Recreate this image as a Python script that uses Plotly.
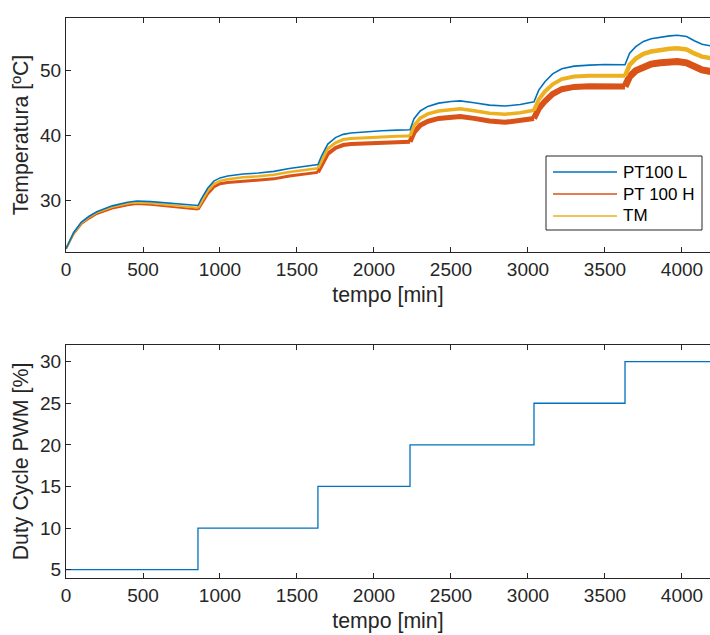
import plotly.graph_objects as go

# ---------------- data ----------------
t = [0, 20, 50, 100, 150, 200, 300, 400, 460, 550, 650, 750, 857,
     880, 920, 960, 1000, 1050, 1150, 1250, 1350, 1450, 1550, 1636,
     1660, 1700, 1750, 1800, 1850, 1950, 2050, 2150, 2234,
     2260, 2300, 2350, 2420, 2500, 2560, 2650, 2750, 2850, 2950, 3039,
     3070, 3110, 3160, 3220, 3300, 3400, 3500, 3630,
     3660, 3700, 3750, 3800, 3860, 3920, 3970, 4030, 4080, 4130, 4190]

pt100_l = [22.5, 23.6, 25.0, 26.6, 27.5, 28.2, 29.1, 29.65, 29.85, 29.75, 29.55, 29.4, 29.15,
           30.2, 31.8, 32.9, 33.4, 33.7, 34.0, 34.15, 34.4, 34.85, 35.2, 35.45,
           36.8, 38.6, 39.6, 40.1, 40.3, 40.5, 40.65, 40.75, 40.8,
           42.5, 43.7, 44.4, 44.9, 45.15, 45.25, 44.95, 44.6, 44.45, 44.7, 45.1,
           46.9, 48.2, 49.4, 50.2, 50.6, 50.75, 50.85, 50.8,
           52.6, 53.6, 54.4, 54.8, 55.05, 55.25, 55.35, 55.15, 54.5, 53.95, 53.7]

tm = [22.5, 23.5, 24.9, 26.45, 27.35, 28.05, 28.9, 29.45, 29.6, 29.5, 29.25, 29.1, 28.8,
      29.8, 31.4, 32.45, 32.95, 33.2, 33.5, 33.65, 33.9, 34.3, 34.65, 34.9,
      36.1, 37.9, 38.8, 39.3, 39.45, 39.6, 39.72, 39.8, 39.85,
      41.45, 42.6, 43.25, 43.7, 43.95, 44.05, 43.73, 43.35, 43.2, 43.42, 43.8,
      45.45, 46.7, 47.8, 48.6, 49.0, 49.1, 49.15, 49.1,
      50.8, 51.75, 52.5, 52.85, 53.1, 53.28, 53.36, 53.15, 52.55, 52.05, 51.8]

pt100_h = [22.5, 23.4, 24.8, 26.3, 27.15, 27.85, 28.7, 29.2, 29.4, 29.25, 29.0, 28.85, 28.55,
           29.45, 30.95, 32.0, 32.5, 32.7, 32.9, 33.0, 33.25, 33.7, 34.0, 34.25,
           35.4, 37.1, 38.0, 38.45, 38.6, 38.75, 38.8, 38.9, 38.95,
           40.4, 41.5, 42.1, 42.55, 42.75, 42.85, 42.56, 42.15, 41.95, 42.2, 42.55,
           44.05, 45.2, 46.3, 47.05, 47.4, 47.5, 47.55, 47.45,
           49.0, 49.9, 50.55, 50.9, 51.1, 51.25, 51.3, 51.1, 50.5, 50.0, 49.75]

pwm_t = [0, 857, 1636, 2234, 3039, 3630, 4190]
pwm_v = [5, 10, 15, 20, 25, 30, 30]

series_names = ["PT100 L", "PT 100 H", "TM"]
x_ticks = [0, 500, 1000, 1500, 2000, 2500, 3000, 3500, 4000]
temp_ticks = [30, 40, 50]
pwm_ticks = [5, 10, 15, 20, 25, 30]

# ---------------- styling ----------------
C_BLUE = "#0072BD"
C_RED = "#D95319"
C_YEL = "#EDB120"
AX = "#262626"
FONT = "Liberation Sans, Arial, sans-serif"
FS_TICK = 19
FS_TITLE = 21.3
FS_LEG = 17

W, H = 710, 635
L, R, T, B = 66, 0, 18, 57
PW, PH = W - L - R, H - T - B


def px(xp):
    return (xp - L) / PW


def py(yp):
    return (H - B - yp) / PH


# period boundaries (for drawing the noisy series thicker later on)
bounds = [0, 857, 1636, 2234, 3039, 3630, 4190]
w_red = [2.0, 3.0, 4.0, 5.0, 6.0, 7.0]
w_yel = [2.0, 2.5, 3.0, 3.5, 4.0, 4.5]

fig = go.Figure()


def add_segmented(vals, color, widths):
    for k in range(len(bounds) - 1):
        xs, ys = [], []
        for ti, vi in zip(t, vals):
            if bounds[k] <= ti <= bounds[k + 1]:
                xs.append(ti)
                ys.append(vi)
        fig.add_trace(go.Scatter(x=xs, y=ys, mode="lines", showlegend=False,
                                 line=dict(color=color, width=widths[k]),
                                 xaxis="x", yaxis="y", hoverinfo="skip"))


add_segmented(pt100_h, C_RED, w_red)
add_segmented(tm, C_YEL, w_yel)
fig.add_trace(go.Scatter(x=t, y=pt100_l, mode="lines", name=series_names[0], showlegend=False,
                         line=dict(color=C_BLUE, width=1.6), xaxis="x", yaxis="y"))

fig.add_trace(go.Scatter(x=pwm_t, y=pwm_v, mode="lines", line_shape="hv", showlegend=False,
                         line=dict(color=C_BLUE, width=1.3), xaxis="x2", yaxis="y2"))

axis_common = dict(showgrid=False, zeroline=False, showline=True, linecolor=AX, linewidth=1,
                   ticks="inside", ticklen=5, tickcolor=AX, tickwidth=1,
                   tickfont=dict(family=FONT, size=FS_TICK, color=AX))
title_font = dict(family=FONT, size=FS_TITLE, color=AX)

top_bottom = py(252)
bot_top = py(345)

fig.update_layout(
    width=W, height=H,
    margin=dict(l=L, r=R, t=T, b=B),
    paper_bgcolor="white", plot_bgcolor="white",
    showlegend=False,
    font=dict(family=FONT, size=FS_TICK, color=AX),
    xaxis=dict(axis_common, domain=[0, 1], range=[0, 4182], tickvals=x_ticks, mirror="ticks",
               anchor="y", title=dict(text="tempo [min]", standoff=8, font=title_font)),
    yaxis=dict(axis_common, domain=[top_bottom, 1], range=[22, 58], tickvals=temp_ticks,
               anchor="x", title=dict(text="Temperatura [ºC]", standoff=5, font=title_font)),
    xaxis2=dict(axis_common, domain=[0, 1], range=[0, 4182], tickvals=x_ticks, mirror="ticks",
                anchor="y2", title=dict(text="tempo [min]", standoff=8, font=title_font)),
    yaxis2=dict(axis_common, domain=[0, bot_top], range=[4, 32], tickvals=pwm_ticks,
                anchor="x2", title=dict(text="Duty Cycle PWM [%]", standoff=5, font=title_font)),
)

# ---------------- manual legend ----------------
box = dict(x0=546, x1=702, y0=156, y1=230)
fig.add_shape(type="rect", xref="paper", yref="paper",
              x0=px(box["x0"]), x1=px(box["x1"]), y0=py(box["y1"]), y1=py(box["y0"]),
              line=dict(color=AX, width=1), fillcolor="white", layer="above")
rows = [172, 194, 216]
cols = [C_BLUE, C_RED, C_YEL]
for name, yc, c in zip(series_names, rows, cols):
    fig.add_shape(type="line", xref="paper", yref="paper",
                  x0=px(553), x1=px(617), y0=py(yc), y1=py(yc),
                  line=dict(color=c, width=1.3), layer="above")
    fig.add_annotation(xref="paper", yref="paper", x=px(621), y=py(yc), text=name,
                       showarrow=False, xanchor="left", yanchor="middle",
                       font=dict(family=FONT, size=FS_LEG, color="black"))

fig.write_html("out.html")
